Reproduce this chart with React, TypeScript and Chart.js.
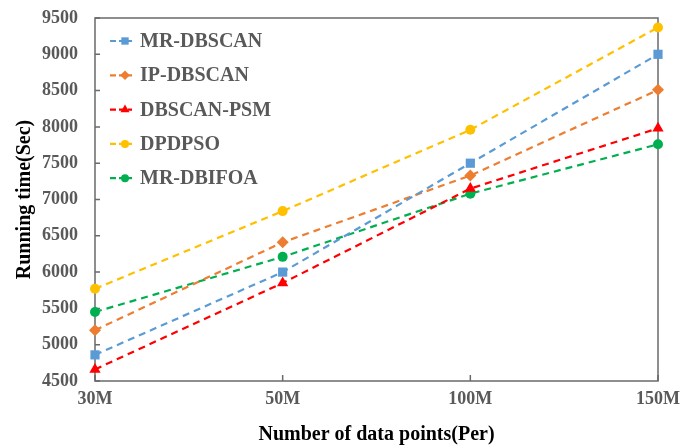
import React, { useEffect, useRef } from "react";
import { Chart, registerables } from "chart.js";

Chart.register(...registerables);

const categories = ["30M", "50M", "100M", "150M"];
const seriesNames = ["MR-DBSCAN", "IP-DBSCAN", "DBSCAN-PSM", "DPDPSO", "MR-DBIFOA"];
const mrDbscan = [4860, 6000, 7500, 9000];
const ipDbscan = [5200, 6410, 7330, 8510];
const dbscanPsm = [4660, 5850, 7150, 7980];
const dpdpso = [5770, 6840, 7960, 9370];
const mrDbifoa = [5450, 6210, 7080, 7760];
const yMin = 4500;
const yMax = 9500;
const yStep = 500;

const seriesValues = [mrDbscan, ipDbscan, dbscanPsm, dpdpso, mrDbifoa];
const seriesColors = ["#5B9BD5", "#ED7D31", "#FF0000", "#FFC000", "#00B050"];
const seriesShapes = ["rect", "rectRot", "triangle", "circle", "circle"];
const seriesRadius = [6.5, 6, 6.5, 5, 5];

const FONT = "'Liberation Serif', 'Times New Roman', serif";

function drawMarker(ctx: CanvasRenderingContext2D, shape: string, x: number, y: number, r: number) {
  ctx.beginPath();
  if (shape === "rect") {
    const s = Math.SQRT1_2 * r;
    ctx.rect(x - s, y - s, 2 * s, 2 * s);
  } else if (shape === "rectRot") {
    ctx.moveTo(x, y - r);
    ctx.lineTo(x + r, y);
    ctx.lineTo(x, y + r);
    ctx.lineTo(x - r, y);
    ctx.closePath();
  } else if (shape === "triangle") {
    for (let i = 0; i < 3; i++) {
      const a = -Math.PI / 2 + (i * 2 * Math.PI) / 3;
      const px = x + Math.cos(a) * r;
      const py = y + Math.sin(a) * r;
      if (i === 0) ctx.moveTo(px, py);
      else ctx.lineTo(px, py);
    }
    ctx.closePath();
  } else {
    ctx.arc(x, y, r, 0, Math.PI * 2);
  }
  ctx.fill();
}

const framePlugin = {
  id: "frame",
  beforeDatasetsDraw(chart: any) {
    const { ctx, chartArea: a, scales } = chart;
    ctx.save();
    ctx.strokeStyle = "#6a6a6a";
    ctx.lineWidth = 1.5;
    ctx.strokeRect(a.left, a.top, a.right - a.left, a.bottom - a.top);
    ctx.beginPath();
    scales.y.ticks.forEach((_t: any, i: number) => {
      const y = scales.y.getPixelForTick(i);
      ctx.moveTo(a.left, y);
      ctx.lineTo(a.left + 5, y);
    });
    scales.x.ticks.forEach((_t: any, i: number) => {
      const x = scales.x.getPixelForTick(i);
      ctx.moveTo(x, a.bottom);
      ctx.lineTo(x, a.bottom - 6);
    });
    ctx.stroke();
    ctx.restore();
  },
};

const legendPlugin = {
  id: "innerLegend",
  afterDatasetsDraw(chart: any) {
    const { ctx, chartArea: a } = chart;
    ctx.save();
    chart.data.datasets.forEach((ds: any, i: number) => {
      const y = a.top + 23 + i * 34.3;
      ctx.strokeStyle = ds.borderColor;
      ctx.lineWidth = 2.2;
      ctx.setLineDash([6, 3]);
      ctx.beginPath();
      ctx.moveTo(a.left + 15, y);
      ctx.lineTo(a.left + 37, y);
      ctx.stroke();
      ctx.setLineDash([]);
      ctx.fillStyle = ds.backgroundColor;
      drawMarker(ctx, seriesShapes[i], a.left + 30, y, seriesRadius[i] * 0.8);
      ctx.fillStyle = "#595959";
      ctx.font = `bold 20px ${FONT}`;
      ctx.textBaseline = "middle";
      ctx.textAlign = "left";
      ctx.fillText(ds.label, a.left + 45, y + 1);
    });
    ctx.restore();
  },
};

export default function App() {
  const ref = useRef<HTMLCanvasElement | null>(null);

  useEffect(() => {
    if (!ref.current) return;
    const chart = new Chart(ref.current, {
      type: "line",
      data: {
        labels: categories,
        datasets: seriesNames.map((name, i) => ({
          label: name,
          data: seriesValues[i],
          borderColor: seriesColors[i],
          backgroundColor: seriesColors[i],
          borderWidth: 2.2,
          borderDash: [7, 5],
          pointStyle: seriesShapes[i] as any,
          pointRadius: seriesRadius[i],
          pointBorderWidth: 0,
          pointBackgroundColor: seriesColors[i],
          tension: 0,
          clip: false as any,
          fill: false,
        })),
      },
      options: {
        animation: false,
        responsive: false,
        layout: { padding: { top: 18, right: 25, left: 0, bottom: 0 } },
        plugins: {
          legend: { display: false },
          tooltip: { enabled: false },
        },
        scales: {
          x: {
            type: "category",
            offset: false,
            grid: { display: false, drawTicks: false },
            border: { display: false },
            ticks: {
              color: "#595959",
              font: { family: FONT, size: 18, weight: "bold" },
              padding: 8,
              maxRotation: 0,
            },
            title: {
              display: true,
              text: "Number of data points(Per)",
              color: "#000000",
              font: { family: FONT, size: 20, weight: "bold" },
              padding: { top: 0, bottom: 1 },
            },
            afterFit: (s: any) => {
              s.height = 67;
              s.paddingLeft = 0;
              s.paddingRight = 0;
            },
          },
          y: {
            min: yMin,
            max: yMax,
            grid: { display: false, drawTicks: false },
            border: { display: false },
            ticks: {
              stepSize: yStep,
              color: "#595959",
              font: { family: FONT, size: 18, weight: "bold" },
              padding: 17,
              callback: (v: any) => String(v),
            },
            title: {
              display: true,
              text: "Running time(Sec)",
              color: "#000000",
              font: { family: FONT, size: 20, weight: "bold" },
              padding: { top: 13, bottom: 0 },
            },
            afterFit: (s: any) => {
              s.width = 95;
              s.paddingTop = 0;
              s.paddingBottom = 0;
            },
          },
        },
      },
      plugins: [framePlugin, legendPlugin],
    });
    return () => chart.destroy();
  }, []);

  return (
    <div style={{ position: "absolute", left: 0, top: 0, width: 683, height: 448, background: "#fff" }}>
      <canvas ref={ref} width={683} height={448} />
    </div>
  );
}
